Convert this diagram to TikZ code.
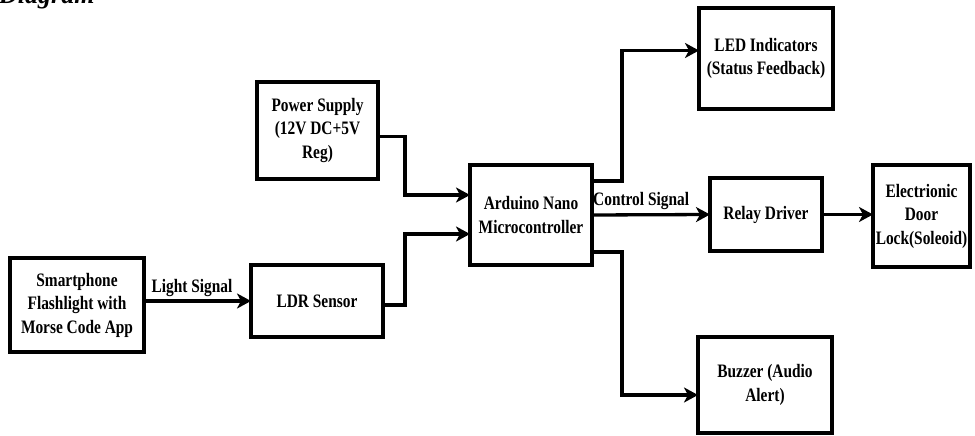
\documentclass[tikz,border=0pt]{standalone}
\usepackage{fontspec}
\setmainfont[FakeStretch=0.81]{Liberation Serif}
\newfontfamily\titlefont{Liberation Serif}
\usetikzlibrary{arrows.meta,calc}
\begin{document}
\begin{tikzpicture}[x=1pt,y=-1pt,
  blk/.style={draw,line width=3.8pt,fill=white,align=center,inner sep=0pt,outer sep=0pt,
    font=\fontsize{19}{23.5}\selectfont\bfseries},
  arr/.style={line width=3.3pt,-{Stealth[length=14pt,width=15pt,inset=4pt]}},
  lbl/.style={font=\fontsize{19}{23.5}\selectfont\bfseries,inner sep=0pt}]
\useasboundingbox (0,0) rectangle (975,436);
\node[font=\titlefont\fontsize{26}{30}\selectfont\bfseries\itshape,anchor=base west,inner sep=0pt] (title) at (-1,4) {Diagram};
\node[blk,minimum width=134pt,minimum height=94pt] (phone) at (77,305) {Smartphone\\Flashlight with\\Morse Code App};
\node[blk,minimum width=132pt,minimum height=72pt] (ldr) at (317,301) {LDR Sensor};
\node[blk,minimum width=121pt,minimum height=97pt] (power) at (317.5,130.5) {Power Supply\\(12V DC+5V\\Reg)};
\node[blk,minimum width=122pt,minimum height=100pt] (ard) at (531,215) {Arduino Nano\\Microcontroller};
\node[blk,minimum width=134pt,minimum height=101pt] (led) at (766,58.5) {LED Indicators\\(Status Feedback)};
\node[blk,minimum width=112pt,minimum height=73pt] (relay) at (766,214.5) {Relay Driver};
\node[blk,minimum width=97pt,minimum height=102pt] (door) at (921.5,216) {Electrionic\\Door\\Lock(Soleoid)};
\node[blk,minimum width=134pt,minimum height=96pt] (buzz) at (765,385) {Buzzer (Audio\\Alert)};

\draw[arr] (ldr.west -| phone.east) -- (ldr.west);
\node[lbl,anchor=base] (ls) at (192,292) {Light Signal};
\draw[arr] ([yshift=-4pt]ldr.east) -- ++(22,0) |- ([yshift=-19pt]ard.west);
\draw[arr] ([yshift=-6pt]power.east) -- ++(27,0) |- ([yshift=20pt]ard.west);
\draw[arr] ([yshift=34pt]ard.east) -- ++(30,0) |- ([yshift=8pt]led.west);
\draw[arr] (ard.east) -- (relay.west);
\node[lbl,anchor=base west] (cs) at (593,205) {Control Signal};
\draw[arr] (relay.east) -- (relay.east -| door.west);
\draw[arr] ([yshift=-37pt]ard.east) -- ++(30,0) |- ([yshift=-10pt]buzz.west);
\end{tikzpicture}
\end{document}
